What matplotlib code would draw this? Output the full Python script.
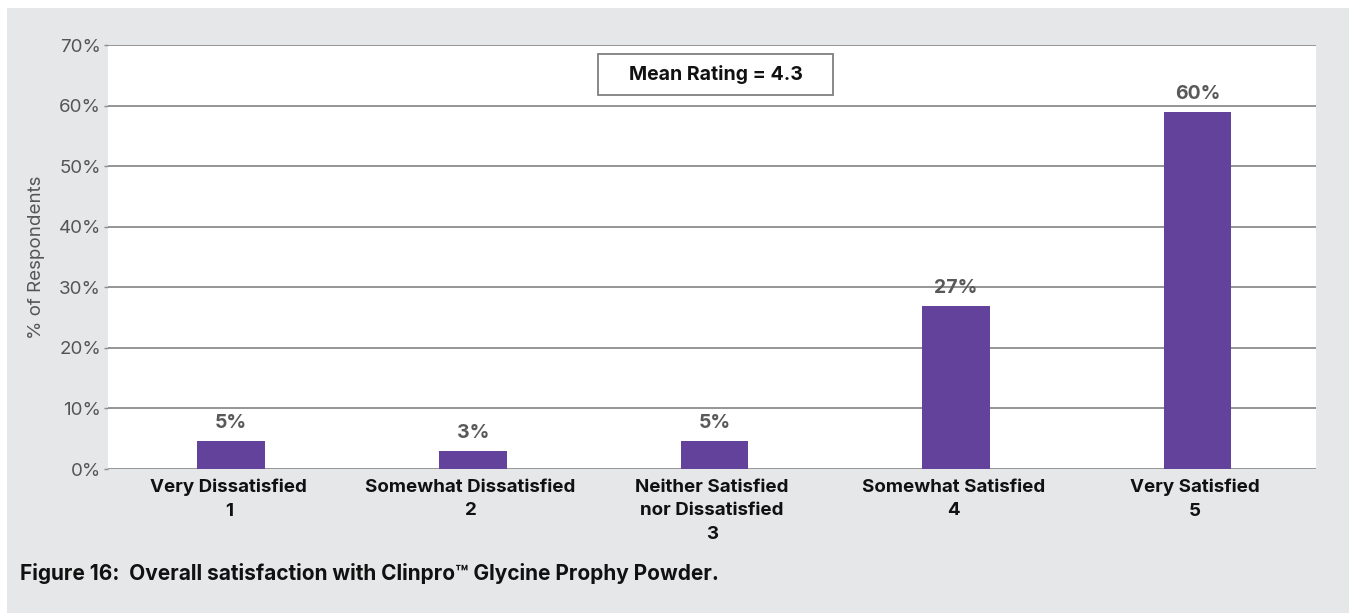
import numpy as np
import matplotlib.pyplot as plt
from matplotlib.patches import Rectangle

plt.rcParams['font.family'] = ['Inter', 'DejaVu Sans']

# Data
categories = ["Very Dissatisfied\n1", "Somewhat Dissatisfied\n2",
              "Neither Satisfied\nnor Dissatisfied\n3",
              "Somewhat Satisfied\n4", "Very Satisfied\n5"]
values = [4.6, 3.0, 4.6, 26.9, 59.0]
value_labels = ["5%", "3%", "5%", "27%", "60%"]
yticks = [0, 10, 20, 30, 40, 50, 60, 70]
mean_rating = 4.3

fig = plt.figure(figsize=(13.49, 6.13), dpi=100, facecolor='white')
# gray panel behind everything
fig.patches.append(Rectangle((7 / 1349, 0), 1, (613 - 8) / 613,
                             transform=fig.transFigure, facecolor='#e6e7e9',
                             edgecolor='none', zorder=-10))

ax = fig.add_axes([108 / 1349, 1 - 469 / 613, (1316 - 108) / 1349, (469 - 45) / 613])
ax.set_facecolor('white')

x = np.arange(len(categories))
ax.bar(x + 0.01, values, width=0.28, color='#62429a', zorder=3)
for xi, v, lab in zip(x, values, value_labels):
    ax.text(xi + 0.01, v + 1.5, lab, ha='center', va='bottom', fontsize=14,
            fontweight='bold', color='#595959')

ax.set_xlim(-0.5, len(categories) - 0.5)
ax.set_ylim(0, 70)
ax.set_yticks(yticks)
ax.set_yticklabels([f"{t}%" for t in yticks], fontsize=13.5, color='#555555')
ax.grid(axis='y', color='#8c8c8c', linewidth=1.3, zorder=1)
ax.tick_params(axis='y', length=3, width=1, color='#8c8c8c', pad=2)
ax.tick_params(axis='x', length=0, pad=7)
for s in ax.spines.values():
    s.set_visible(False)

ax.set_xticks(x)
ax.set_xticklabels(categories, fontsize=13.5, fontweight='bold', color='#111111',
                   linespacing=1.5)

ax.set_ylabel("% of Respondents", fontsize=13.5, color='#555555', labelpad=10)

# mean rating box
ax.add_patch(Rectangle((0.4056, 0.882), 0.1946, 0.097, transform=ax.transAxes,
                       facecolor='white', edgecolor='#7f7f7f', linewidth=1.3, zorder=5))
ax.text(0.503, 0.931, f"Mean Rating = {mean_rating}", transform=ax.transAxes,
        ha='center', va='center', fontsize=14, fontweight='bold', color='#111111',
        zorder=6)

fig.text(20 / 1349, 1 - 573 / 613,
         "Figure 16:  Overall satisfaction with Clinpro\u2122 Glycine Prophy Powder.",
         ha='left', va='center', fontsize=15, fontweight='bold', color='#111111')

fig.savefig('out.png', dpi=100, facecolor=fig.get_facecolor())
